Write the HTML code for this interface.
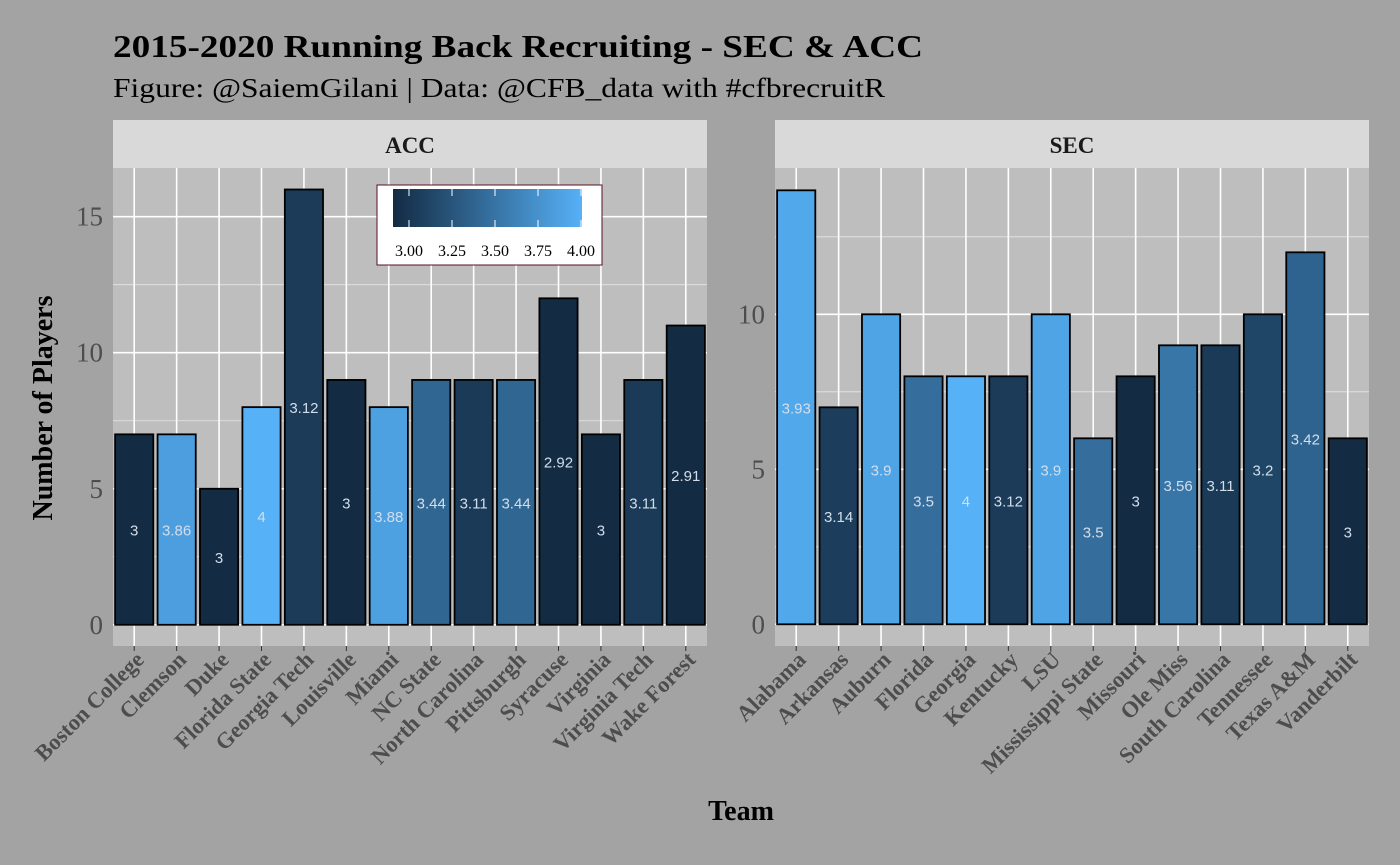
<!DOCTYPE html>
<html><head><meta charset="utf-8"><style>
body{margin:0;background:#A3A3A3;}
svg{display:block;font-family:"Liberation Serif",serif;}
</style></head><body>
<svg id="c" width="1400" height="865" xmlns="http://www.w3.org/2000/svg">
<rect width="1400" height="865" fill="#A3A3A3"/>
<text x="113" y="57" font-size="32" font-weight="bold" textLength="810" lengthAdjust="spacingAndGlyphs">2015-2020 Running Back Recruiting - SEC &amp; ACC</text>
<text x="113" y="97" font-size="27" textLength="772" lengthAdjust="spacingAndGlyphs">Figure: @SaiemGilani | Data: @CFB_data with #cfbrecruitR</text>
<text x="741" y="820" font-size="28" font-weight="bold" text-anchor="middle">Team</text>
<text transform="translate(52,408) rotate(-90)" font-size="28" font-weight="bold" text-anchor="middle">Number of Players</text>
<g id="panels"></g>
</svg>
<script>
const accTeams=["Boston College","Clemson","Duke","Florida State","Georgia Tech","Louisville","Miami","NC State","North Carolina","Pittsburgh","Syracuse","Virginia","Virginia Tech","Wake Forest"];
const accCounts=[7,7,5,8,16,9,8,9,9,9,12,7,9,11];
const accRatings=[3,3.86,3,4,3.12,3,3.88,3.44,3.11,3.44,2.92,3,3.11,2.91];
const secTeams=["Alabama","Arkansas","Auburn","Florida","Georgia","Kentucky","LSU","Mississippi State","Missouri","Ole Miss","South Carolina","Tennessee","Texas A&M","Vanderbilt"];
const secCounts=[14,7,10,8,8,8,10,6,8,9,9,10,12,6];
const secRatings=[3.93,3.14,3.9,3.5,4,3.12,3.9,3.5,3,3.56,3.11,3.2,3.42,3];
const accTicks=[0,5,10,15];
const secTicks=[0,5,10];
const legendTicks=[3.00,3.25,3.50,3.75,4.00];

const NS="http://www.w3.org/2000/svg";
const root=document.getElementById('panels');
function mk(tag,attrs,parent){const e=document.createElementNS(NS,tag);for(const k in attrs)e.setAttribute(k,attrs[k]);(parent||root).appendChild(e);return e;}
function col(v){let t=Math.max(0,Math.min(1,(v-3)/1));const a=[0x13,0x2B,0x43],b=[0x56,0xB1,0xF7];return 'rgb('+a.map((x,i)=>Math.round(x+(b[i]-x)*t)).join(',')+')';}

function panel(name,x0,x1,yTop,yBot,ymin,ymax,teams,counts,ratings,ticks){
  const g=mk('g',{});
  
  
  const strip=mk('rect',{x:x0,y:120,width:x1-x0,height:48,fill:'#D9D9D9'},g);
  
  
  const st=mk('text',{x:(x0+x1)/2,y:153,'font-size':23,'font-weight':'bold','text-anchor':'middle',fill:'#1a1a1a'},g);
  st.textContent=name;
  
  
  const bg=mk('rect',{x:x0,y:yTop,width:x1-x0,height:yBot-yTop,fill:'#BEBEBE'},g);
  
  
  const ys=v=>yBot-(v-ymin)/(ymax-ymin)*(yBot-yTop);
  const n=teams.length,bw=(x1-x0)/n;
  const xs=i=>x0+bw*(i+0.5);
  for(let t=ticks[0]+2.5;t<ymax;t+=5) mk('line',{x1:x0,x2:x1,y1:ys(t),y2:ys(t),stroke:'#E6E6E6','stroke-width':0.8},g);
  ticks.forEach(t=>{
    mk('line',{x1:x0,x2:x1,y1:ys(t),y2:ys(t),stroke:'#fff','stroke-width':1.6},g);
    const tl=mk('text',{x:x0-10,y:ys(t)+9,'font-size':27,'text-anchor':'end',fill:'#4D4D4D'},g);
    tl.textContent=t;
    
    
  });
  teams.forEach((tm,i)=>mk('line',{x1:xs(i),x2:xs(i),y1:yTop,y2:yBot,stroke:'#fff','stroke-width':1.6},g));
  teams.forEach((tm,i)=>{
    const w=bw*0.9;
    const r=mk('rect',{x:xs(i)-w/2,y:ys(counts[i]),width:w,height:ys(0)-ys(counts[i]),fill:col(ratings[i]),stroke:'#000','stroke-width':1.8},g);
    
    
    const lb=mk('text',{x:xs(i),y:ys(counts[i]/2)+6,'font-size':15,'text-anchor':'middle',fill:'#D3DEEA','font-family':'Liberation Sans, sans-serif'},g);
    lb.textContent=ratings[i];
    
    
    mk('line',{x1:xs(i),x2:xs(i),y1:yBot,y2:yBot+5,stroke:'#333','stroke-width':1},g);
    const xl=mk('text',{transform:'translate('+(xs(i)+11)+','+(yBot+15)+') rotate(-45)','font-size':22.5,'font-weight':'bold','text-anchor':'end',fill:'#4D4D4D'},g);
    xl.textContent=tm;
    
    
  });
}
panel('ACC',113,707,168,646,-0.78,16.79,accTeams,accCounts,accRatings,accTicks);
panel('SEC',775,1369,168,646,-0.70,14.72,secTeams,secCounts,secRatings,secTicks);

// legend
const lg=mk('g',{});


mk('rect',{x:377,y:185,width:225,height:80,fill:'#fff',stroke:'#5a1020','stroke-width':1},lg);
const defs=mk('defs',{},lg);
const grad=mk('linearGradient',{id:'gr',x1:0,x2:1,y1:0,y2:0},defs);
mk('stop',{offset:0,'stop-color':col(2.907)},grad);
mk('stop',{offset:1,'stop-color':col(4)},grad);
mk('rect',{x:393,y:189,width:189,height:38,fill:'url(#gr)'},lg);
const lx=v=>409+(v-3)*172;
legendTicks.forEach(v=>{
  mk('line',{x1:lx(v),x2:lx(v),y1:189,y2:196,stroke:'#fff','stroke-width':1},lg);
  mk('line',{x1:lx(v),x2:lx(v),y1:220,y2:227,stroke:'#fff','stroke-width':1},lg);
  const t=mk('text',{x:lx(v),y:256,'font-size':16,'text-anchor':'middle',fill:'#000'},lg);
  t.textContent=v.toFixed(2);
  
  
});
</script>
</body></html>
